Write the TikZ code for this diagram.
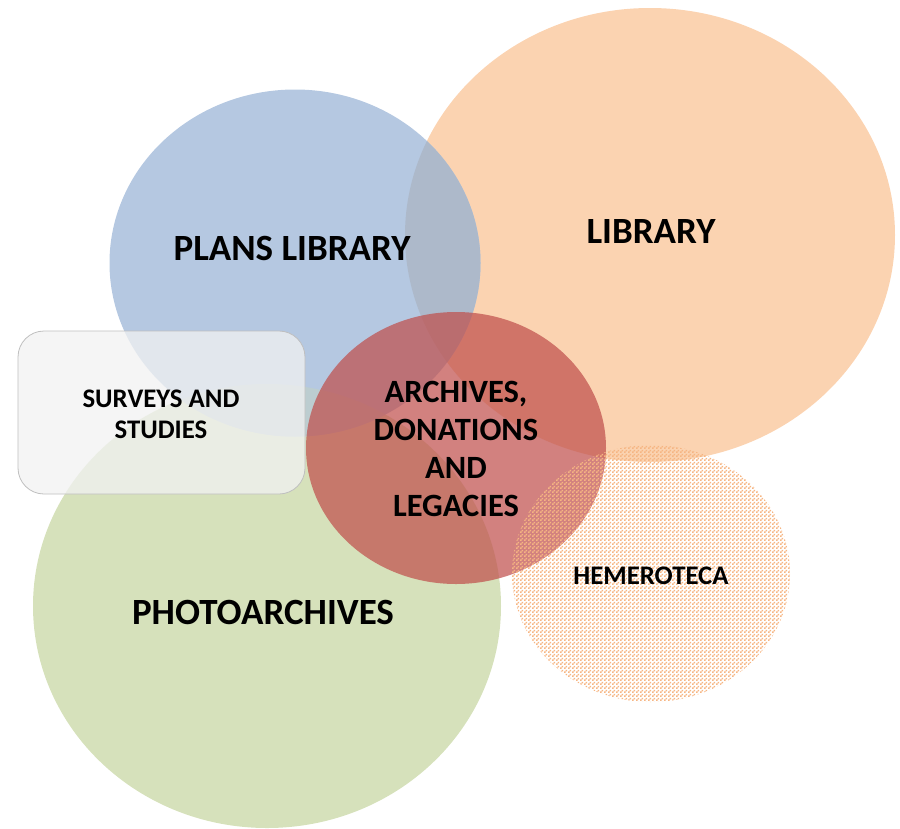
\documentclass[tikz,border=0pt]{standalone}
\usepackage{fontspec}
\setmainfont{Carlito}
\usetikzlibrary{shapes.geometric,patterns}
\definecolor{cblue}{HTML}{B5C8E1}
\definecolor{cgreen}{HTML}{D6E1BB}
\definecolor{corange}{HTML}{FBD3B1}
\definecolor{cblor}{HTML}{ADB9CA}
\definecolor{cblgr}{HTML}{BCCDD0}
\definecolor{cred}{HTML}{C0504D}
\definecolor{cpat}{HTML}{F6B582}
\definecolor{cbox}{HTML}{F2F2F2}
\definecolor{cboxline}{HTML}{BFBFBF}
\pgfdeclarepatternformonly{checker}{\pgfqpoint{0pt}{0pt}}{\pgfqpoint{4pt}{4pt}}{\pgfqpoint{4pt}{4pt}}{%
  \pgfpathrectangle{\pgfqpoint{0pt}{0pt}}{\pgfqpoint{2pt}{2pt}}%
  \pgfpathrectangle{\pgfqpoint{2pt}{2pt}}{\pgfqpoint{2pt}{2pt}}%
  \pgfusepath{fill}}
\tikzset{
  blob/.style={ellipse, draw=none, inner sep=0pt},
  lbl/.style={text=black, align=center},
  big/.style={lbl, font=\bfseries\fontsize{37}{42}\selectfont},
}
\begin{document}
\begin{tikzpicture}[x=1pt,y=-1pt]
\useasboundingbox (0,0) rectangle (900,828);
% photoarchives
\node[blob, fill=cgreen, minimum width=468pt, minimum height=444pt] (photo) at (267,606) {};
% library
\node[blob, fill=corange, minimum width=490pt, minimum height=454pt] (lib) at (650,235) {};
% plans library
\node[blob, fill=cblue, minimum width=371pt, minimum height=347pt] (plans) at (295,263) {};
% overlaps
\begin{scope}
  \clip (plans.center) ellipse [x radius=185.5pt, y radius=173.5pt];
  \fill[cblor] (lib.center) ellipse [x radius=245pt, y radius=227pt];
  \fill[cblgr] (photo.center) ellipse [x radius=234pt, y radius=222pt];
\end{scope}
% surveys
\node[draw=cboxline, line width=0.8pt, fill=cbox, fill opacity=0.75, rounded corners=26pt, minimum width=287pt, minimum height=163pt, inner sep=0pt] (surv) at (161.5,412.5) {};
% archives
\node[blob, fill=cred, fill opacity=0.72, minimum width=300pt, minimum height=272pt] (arch) at (456,448) {};
% hemeroteca
\node[blob, pattern=checker, pattern color=cpat, minimum width=278pt, minimum height=257pt] (hem) at (651,573.5) {};
% labels
\node[big] (tplans) at (292,248) {PLANS LIBRARY};
\node[big] (tlib) at (651,231) {LIBRARY};
\node[big] (tphoto) at (263,612) {PHOTOARCHIVES};
\node[lbl, font=\bfseries\fontsize{26.8}{31}\selectfont] (tsurv) at (161,414) {SURVEYS AND\\STUDIES};
\node[lbl, font=\bfseries\fontsize{32.5}{38}\selectfont] (tarch) at (456,449) {ARCHIVES,\\DONATIONS\\AND\\LEGACIES};
\node[lbl, font=\bfseries\fontsize{26.8}{30}\selectfont] (them) at (651,576) {HEMEROTECA};
\end{tikzpicture}
\end{document}
